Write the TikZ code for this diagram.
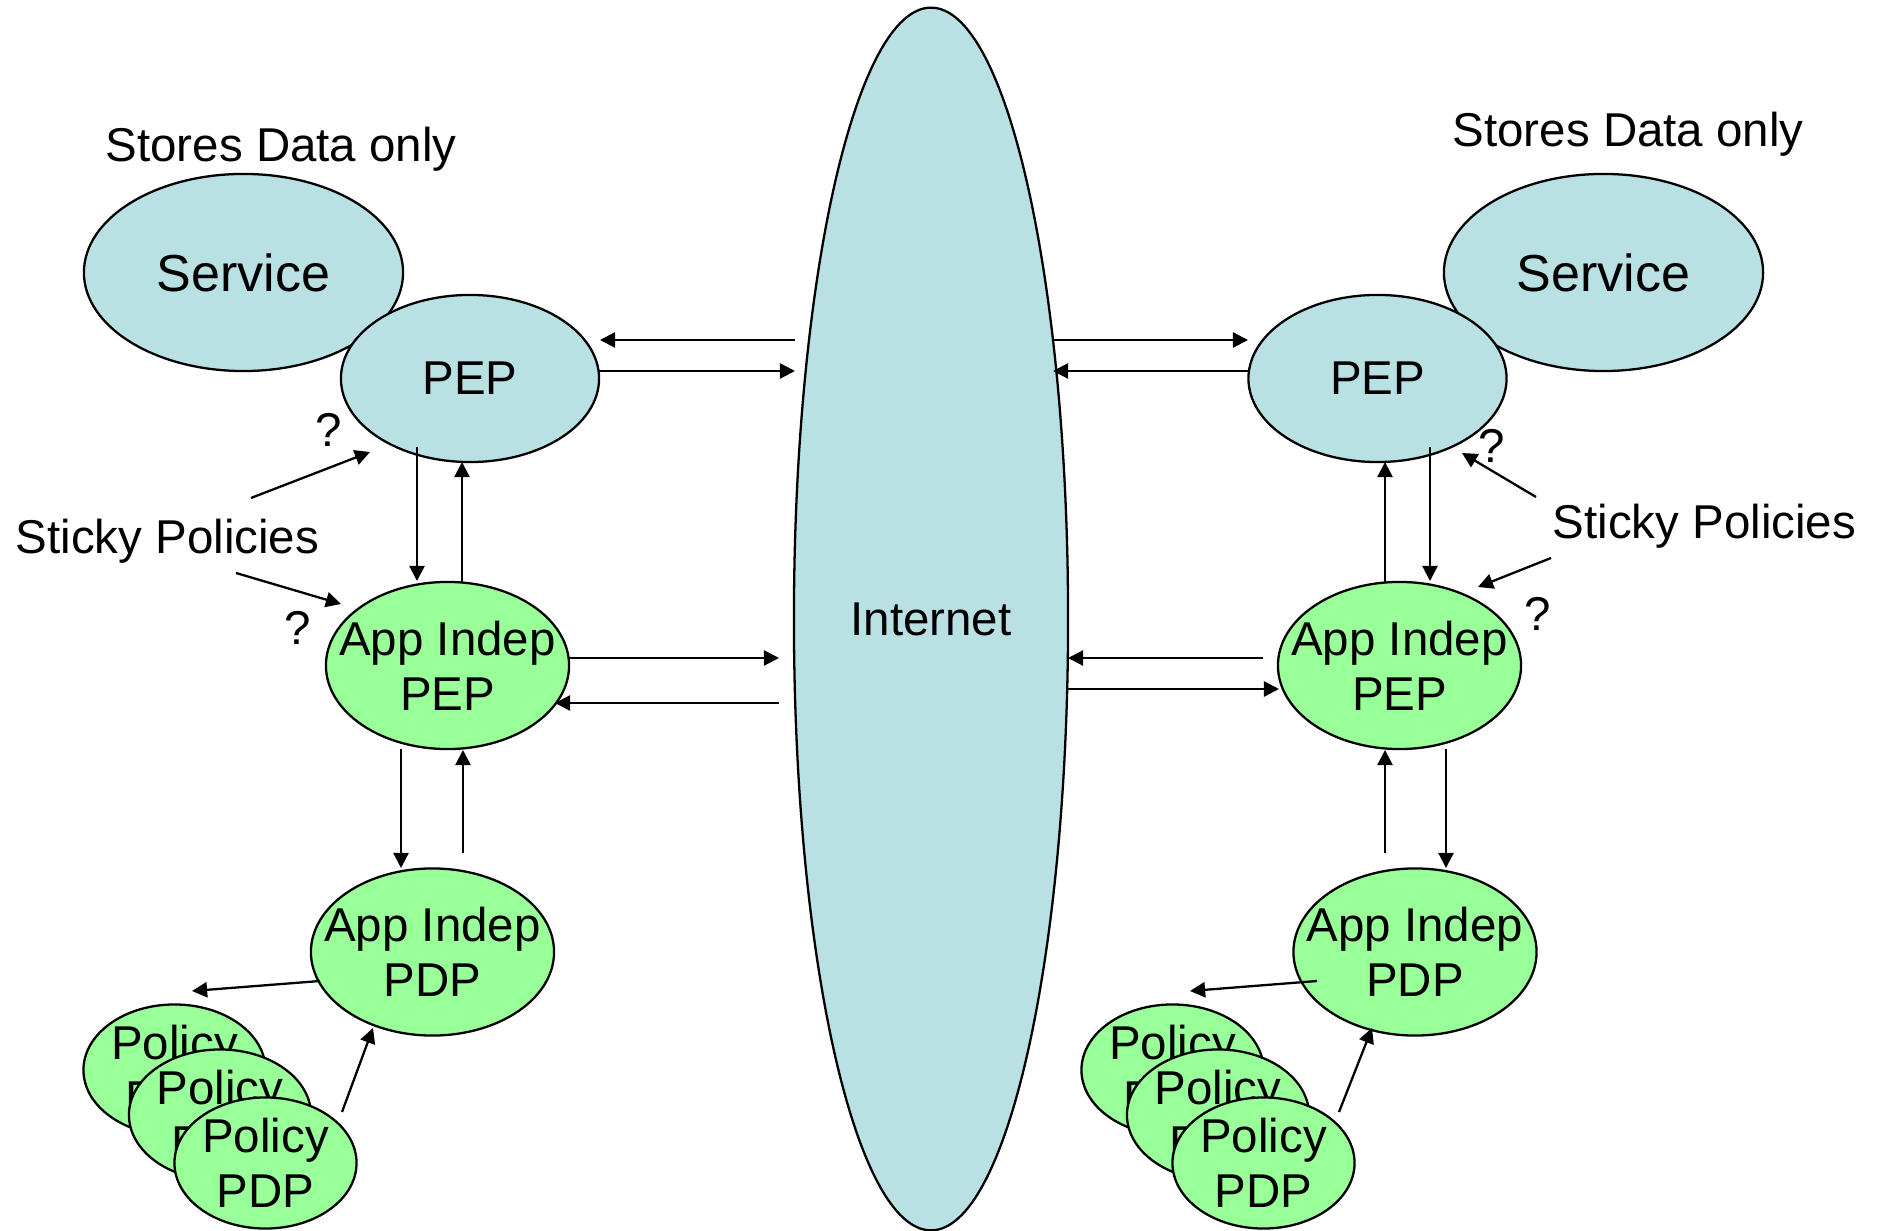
\documentclass[tikz,border=0pt]{standalone}
\usepackage{fontspec}
\setmainfont{Liberation Sans}
\usetikzlibrary{arrows.meta,shapes.geometric}
\definecolor{netblue}{HTML}{B9E0E3}
\definecolor{appgreen}{HTML}{99FF99}
\begin{document}
\begin{tikzpicture}[x=0.01cm,y=-0.01cm,
  txt/.style={font=\fontsize{13.5pt}{15.6pt}\selectfont},
  oval/.style={ellipse, draw, line width=0.65pt, inner sep=-25pt, align=center, txt},
  blueoval/.style={oval, fill=netblue},
  greenoval/.style={oval, fill=appgreen},
  pepoval/.style={blueoval, minimum width=2.58cm, minimum height=1.67cm},
  svcoval/.style={blueoval, minimum width=3.19cm, minimum height=1.97cm, font=\fontsize{14.8pt}{17pt}\selectfont},
  appoval/.style={greenoval, minimum width=2.43cm, minimum height=1.67cm},
  poloval/.style={greenoval, minimum width=1.82cm, minimum height=1.31cm},
  arr/.style={-{Triangle[length=4.3pt,width=4.3pt]}, line width=0.65pt},
  lbl/.style={inner sep=0pt, txt}]

\useasboundingbox (0,0) rectangle (1879,1231);

% Internet
\node[blueoval, minimum width=2.74cm, minimum height=12.22cm] (net) at (931,619) {Internet};

% Left side
\node[svcoval] (svcL) at (243.5,272.5) {Service};
\node[pepoval] (pepL) at (470,378.5) {PEP};
\node[appoval] (apepL) at (447.5,665.5) {App Indep\\PEP};
\node[appoval] (apdpL) at (432.5,952) {App Indep\\PDP};
\node[poloval] (polL1) at (174.5,1070) {Policy\\PDP};
\node[poloval] (polL2) at (220,1115) {Policy\\PDP};
\node[poloval] (polL3) at (265.5,1163) {Policy\\PDP};

% Right side
\node[svcoval] (svcR) at (1603.5,272.5) {Service};
\node[pepoval] (pepR) at (1377.5,378.5) {PEP};
\node[appoval] (apepR) at (1399.5,665.5) {App Indep\\PEP};
\node[appoval] (apdpR) at (1415,952) {App Indep\\PDP};
\node[poloval] (polR1) at (1172.5,1070) {Policy\\PDP};
\node[poloval] (polR2) at (1218,1115) {Policy\\PDP};
\node[poloval] (polR3) at (1263.5,1163) {Policy\\PDP};

% Labels
\node[lbl, anchor=base west] (storesL) at (105,162) {Stores Data only};
\node[lbl, anchor=base west] (storesR) at (1452,147) {Stores Data only};
\node[lbl, anchor=base west] (stickyL) at (15,554) {Sticky Policies};
\node[lbl, anchor=base west] (stickyR) at (1552,539) {Sticky Policies};
\node[lbl, anchor=base] (qL1) at (329,447) {?};
\node[lbl, anchor=base] (qL2) at (298,645) {?};
\node[lbl, anchor=base] (qR1) at (1492,463) {?};
\node[lbl, anchor=base] (qR2) at (1538,630) {?};

% Connector end points
\coordinate (a1s) at (795,340);  \coordinate (a1e) at (600,340);
\coordinate (a2s) at (599,371);  \coordinate (a2e) at (795,371);
\coordinate (a3s) at (1053,340); \coordinate (a3e) at (1248,340);
\coordinate (a4s) at (1248,371); \coordinate (a4e) at (1053,371);
\coordinate (b1s) at (417,447);  \coordinate (b1e) at (417,581);
\coordinate (b2s) at (462,582);  \coordinate (b2e) at (462,462);
\coordinate (b3s) at (1385,582); \coordinate (b3e) at (1385,462);
\coordinate (b4s) at (1430,447); \coordinate (b4e) at (1430,581);
\coordinate (c1s) at (569,658);  \coordinate (c1e) at (779,658);
\coordinate (c2s) at (779,703);  \coordinate (c2e) at (555,703);
\coordinate (c3s) at (1263,658); \coordinate (c3e) at (1068,658);
\coordinate (c4s) at (1068,689); \coordinate (c4e) at (1279,689);
\coordinate (d1s) at (401,749);  \coordinate (d1e) at (401,868);
\coordinate (d2s) at (463,853);  \coordinate (d2e) at (463,750);
\coordinate (d3s) at (1385,853); \coordinate (d3e) at (1385,750);
\coordinate (d4s) at (1446,749); \coordinate (d4e) at (1446,868);
\coordinate (e1s) at (320,981);  \coordinate (e1e) at (192,991);
\coordinate (e2s) at (342,1112); \coordinate (e2e) at (373,1028);
\coordinate (e3s) at (1317,981); \coordinate (e3e) at (1190,991);
\coordinate (e4s) at (1339,1112);\coordinate (e4e) at (1372,1028);
\coordinate (s1s) at (251,498);  \coordinate (s1e) at (370,452);
\coordinate (s2s) at (236,573);  \coordinate (s2e) at (341,604);
\coordinate (s3s) at (1536,497); \coordinate (s3e) at (1462,453);
\coordinate (s4s) at (1551,558); \coordinate (s4e) at (1478,587);

% Connectors
\foreach \p in {a1,a2,a3,a4,b1,b2,b3,b4,c1,c2,c3,c4,d1,d2,d3,d4,e1,e2,e3,e4,s1,s2,s3,s4}
  \draw[arr] (\p s) -- (\p e);
\end{tikzpicture}
\end{document}
